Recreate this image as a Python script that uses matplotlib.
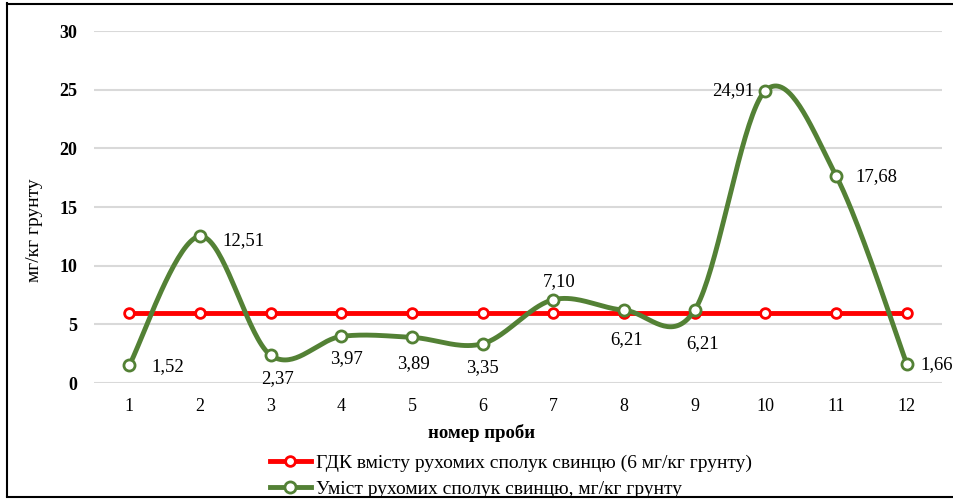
import numpy as np
import matplotlib
matplotlib.use("Agg")
import matplotlib.pyplot as plt
from matplotlib.lines import Line2D

plt.rcParams['font.family'] = ['Liberation Serif', 'DejaVu Serif']

samples = [1, 2, 3, 4, 5, 6, 7, 8, 9, 10, 11, 12]
limit = [6, 6, 6, 6, 6, 6, 6, 6, 6, 6, 6, 6]
lead = [1.52, 12.51, 2.37, 3.97, 3.89, 3.35, 7.10, 6.21, 6.21, 24.91, 17.68, 1.66]
labels = ["1,52", "12,51", "2,37", "3,97", "3,89", "3,35", "7,10", "6,21", "6,21", "24,91", "17,68", "1,66"]
yticks = [0, 5, 10, 15, 20, 25, 30]

green = '#538135'
red = '#FF0000'


def smooth(x, y, n=40):
    x = np.asarray(x, float)
    y = np.asarray(y, float)
    P = np.column_stack([x, y])
    out = []
    m = len(P)
    for i in range(m - 1):
        p0 = P[i - 1] if i > 0 else P[i]
        p1 = P[i]
        p2 = P[i + 1]
        p3 = P[i + 2] if i + 2 < m else P[i + 1]
        c1 = p1 + (p2 - p0) / 6.0
        c2 = p2 - (p3 - p1) / 6.0
        t = np.linspace(0, 1, n)[:, None]
        seg = ((1 - t) ** 3) * p1 + 3 * ((1 - t) ** 2) * t * c1 + 3 * (1 - t) * t ** 2 * c2 + t ** 3 * p2
        out.append(seg if i == 0 else seg[1:])
    s = np.vstack(out)
    return s[:, 0], s[:, 1]


fig = plt.figure(figsize=(9.54, 4.99), dpi=100)
ax = fig.add_axes([94 / 954, 1 - 383 / 499, (942 - 94) / 954, (383 - 31) / 499])

ax.set_xlim(0.5, 12.5)
ax.set_ylim(0, 30)
ax.set_yticks(yticks)
ax.set_xticks(samples)
ax.grid(axis='y', color='#d9d9d9', linewidth=1.5)
ax.set_axisbelow(True)
for sp in ax.spines.values():
    sp.set_visible(False)
ax.tick_params(length=0)
ax.tick_params(axis='x', labelsize=13, pad=11)
ax.tick_params(axis='y', labelsize=13, pad=12)
for lab in ax.get_yticklabels():
    lab.set_fontweight('bold')

ax.plot(samples, limit, color=red, linewidth=3.5, marker='o', markersize=7,
        markerfacecolor='white', markeredgecolor=red, markeredgewidth=2, zorder=3)

sx, sy = smooth(samples, lead)
ax.plot(sx, sy, color=green, linewidth=3.5, zorder=4)
ax.plot(samples, lead, linestyle='none', marker='o', markersize=8,
        markerfacecolor='white', markeredgecolor=green, markeredgewidth=2, zorder=5)

offsets = [(16, -1, 'left'), (16, -3, 'left'), (5, -17, 'center'), (4, -16, 'center'),
           (1, -19, 'center'), (0, -17, 'center'), (4, 13, 'center'), (2, -21, 'center'),
           (6, -24, 'center'), (-8, 0, 'right'), (14, -1, 'left'), (10, -1, 'left')]
for xi, yi, t, (dx, dy, ha) in zip(samples, lead, labels, offsets):
    ax.annotate(t, (xi, yi), xytext=(dx, dy), textcoords='offset points',
                ha=ha, va='center', fontsize=13.5, zorder=6)

ax.set_xlabel('номер проби', fontsize=13.5, fontweight='bold')
ax.xaxis.set_label_coords((482 - 94) / (942 - 94), -(433 - 383) / (383 - 31))
ax.xaxis.label.set_va('center')
ax.set_ylabel('мг/кг грунту', fontsize=14)
ax.yaxis.set_label_coords(-(94 - 35) / (942 - 94), (383 - 230) / (383 - 31))
ax.yaxis.label.set_va('center')

handles = [
    Line2D([], [], color=red, linewidth=3.5, marker='o', markersize=7,
           markerfacecolor='white', markeredgecolor=red, markeredgewidth=2),
    Line2D([], [], color=green, linewidth=3.5, marker='o', markersize=8,
           markerfacecolor='white', markeredgecolor=green, markeredgewidth=2),
]
fig.legend(handles, ['ГДК вмісту рухомих сполук свинцю (6 мг/кг грунту)',
                     'Уміст рухомих сполук свинцю, мг/кг грунту'],
           loc='upper left', bbox_to_anchor=(270 / 954, 1 - 454 / 499), frameon=False,
           fontsize=14, handlelength=2.1, handletextpad=0.25, labelspacing=0.45,
           borderpad=0, borderaxespad=0)

# figure frame
fig.add_artist(Line2D([7 / 954, 7 / 954], [3 / 499, 1 - 3 / 499], color='black', lw=1.5, transform=fig.transFigure))
fig.add_artist(Line2D([7 / 954, 1.0], [1 - 3.5 / 499, 1 - 3.5 / 499], color='black', lw=1.5, transform=fig.transFigure))
fig.add_artist(Line2D([7 / 954, 1.0], [2.5 / 499, 2.5 / 499], color='black', lw=1.5, transform=fig.transFigure))

fig.savefig('out.png', dpi=100)
